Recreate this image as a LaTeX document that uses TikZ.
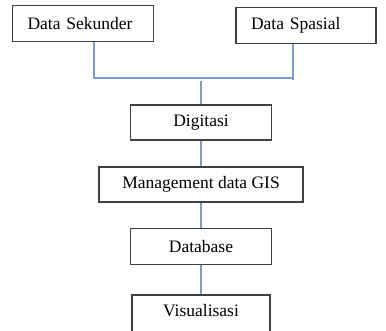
\documentclass[tikz,border=0pt]{standalone}
\usepackage{fontspec}
\setmainfont{Liberation Serif}
\usetikzlibrary{positioning}
\definecolor{linkblue}{RGB}{120,155,210}
\tikzset{
  sourcebox/.style={
    rectangle,
    draw=black!75,
    line width=1.8pt,
    fill=white,
    align=left,
    inner xsep=15pt,
    text width=111pt,
    minimum height=36pt,
    font=\fontsize{17.5}{19}\selectfont
  },
  flowbox/.style={
    rectangle,
    draw=black!75,
    line width=1.8pt,
    fill=white,
    align=center,
    minimum width=141pt,
    minimum height=35pt,
    font=\fontsize{17.5}{19}\selectfont
  },
  link/.style={draw=linkblue, line width=1.3pt}
}
\begin{document}
\begin{tikzpicture}[x=1pt, y=-1pt, node distance=25pt]
  \useasboundingbox (0,0) rectangle (386,331);

  \node[sourcebox] (sekunder) at (83,23.5) {Data Sekunder};
  \node[sourcebox, text width=110pt] (spasial) at (306,25.5) {Data Spasial};

  \node[flowbox] (digitasi) at (201,122.5) {Digitasi};
  \node[flowbox, minimum width=204pt, below=of digitasi] (management) {Management data GIS};
  \node[flowbox, minimum height=36pt, below=of management] (database) {Database};
  \node[flowbox, minimum width=138pt, minimum height=44pt, text depth=13pt, below=29pt of database] (visual) {Visualisasi};

  \coordinate (joinL) at (94,78);
  \coordinate (joinR) at (293,78);
  \coordinate (joinM) at (201,81);

  \draw[link] (joinL |- sekunder.south) -- (joinL) -- (joinR);
  \draw[link] (joinR |- spasial.south) -- ([yshift=-2pt]joinR);
  \draw[link] (joinM) -- (digitasi.north);
  \draw[link] (digitasi.south) -- (management.north);
  \draw[link] (management.south) -- (database.north);
  \draw[link] (database.south) -- (visual.north);
\end{tikzpicture}
\end{document}
